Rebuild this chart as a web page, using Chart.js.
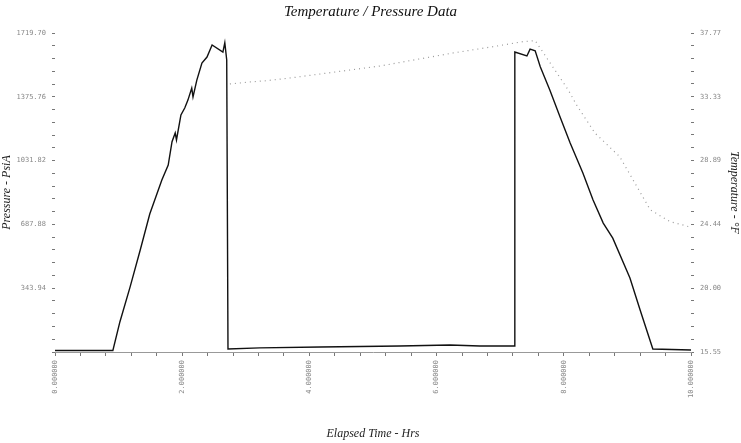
<!DOCTYPE html>
<html>
<head>
<meta charset="utf-8">
<script src="https://cdn.jsdelivr.net/npm/chart.js@4"></script>
<style>
html,body{margin:0;padding:0;background:#fff;}
#wrap{width:741px;height:443px;}
</style>
</head>
<body>
<div id="wrap"><canvas id="c" width="741" height="443"></canvas></div>
<script>
// ---- data ----
const pressureTime = [0.00,0.91,1.02,1.18,1.34,1.49,1.68,1.78,1.84,1.89,1.91,1.98,2.04,2.09,2.15,2.17,2.23,2.31,2.39,2.47,2.64,2.67,2.70,2.72,3.22,4.17,5.42,6.21,6.68,7.22,7.23,7.42,7.47,7.55,7.63,7.78,7.94,8.10,8.30,8.46,8.62,8.77,9.04,9.20,9.40,10.00];
const pressurePsi  = [8,8,162,350,550,744,927,1008,1134,1181,1143,1278,1315,1358,1423,1375,1466,1558,1590,1655,1617,1667,1574,16,22,27,32,38,32,32,1617,1596,1633,1624,1538,1412,1268,1127,965,819,695,614,399,226,16,11];

const tempTime = [2.75,3.07,3.33,3.74,5.11,6.26,6.89,7.36,7.55,8.07,8.20,8.49,8.88,9.09,9.36,9.67,9.87,9.98];
const tempF    = [34.22,34.36,34.45,34.66,35.47,36.38,36.82,37.17,37.24,33.80,32.76,30.80,29.15,27.53,25.45,24.63,24.40,24.26];

// ---- axes / tick labels ----
const xMajorTicks = [0,2,4,6,8,10];
const xTickLabels = ['0.000000','2.000000','4.000000','6.000000','8.000000','10.000000'];
const pressureMajorTicks = [0,343.94,687.88,1031.82,1375.76,1719.70];
const pressureTickLabels = ['','343.94','687.88','1031.82','1375.76','1719.70'];
const tempMajorTicks = [15.55,20.00,24.44,28.89,33.33,37.77];
const tempTickLabels = ['15.55','20.00','24.44','28.89','33.33','37.77'];
const minorPerMajor = 5;

function subdivide(majors){
  const out=[];
  for(let i=0;i<majors.length-1;i++){
    for(let k=0;k<minorPerMajor;k++){
      out.push(majors[i]+(majors[i+1]-majors[i])*k/minorPerMajor);
    }
  }
  out.push(majors[majors.length-1]);
  return out;
}
function makeTicks(majors){
  return function(scale){ scale.ticks = subdivide(majors).map(v=>({value:v})); };
}
function labelFor(majors, labels){
  return function(value){
    for(let i=0;i<majors.length;i++){ if(Math.abs(value-majors[i])<1e-6) return labels[i]; }
    return '';
  };
}

const tickFont = {family:'"DejaVu Sans Mono", monospace', size:7};
const titleFont = {family:'"Liberation Serif", serif', style:'italic', size:12};

new Chart(document.getElementById('c'), {
  type:'line',
  data:{
    datasets:[
      {label:'Pressure', data: pressureTime.map((t,i)=>({x:t,y:pressurePsi[i]})), yAxisID:'yP',
       borderColor:'#111', borderWidth:1.4, pointRadius:0, tension:0, fill:false},
      {label:'Temperature', data: tempTime.map((t,i)=>({x:t,y:tempF[i]})), yAxisID:'yT',
       borderColor:'#9a9a9a', borderWidth:1.2, borderDash:[1,4], pointRadius:0, tension:0, fill:false}
    ]
  },
  options:{
    responsive:false, animation:false,
    layout:{padding:{left:0,right:0,top:0,bottom:0}},
    plugins:{
      legend:{display:false}, tooltip:{enabled:false},
      title:{display:true, text:'Temperature / Pressure Data', color:'#111',
             font:{family:'"Liberation Serif", serif', style:'italic', weight:'normal', size:15}, padding:{top:3,bottom:12}}
    },
    scales:{
      x:{type:'linear', min:0, max:10,
         afterBuildTicks: makeTicks(xMajorTicks),
         afterFit: s=>{ s.height = 91; },
         border:{display:true, color:'#999', width:1},
         grid:{drawOnChartArea:false, drawTicks:true, tickLength:4, color:'#777'},
         ticks:{autoSkip:false, maxRotation:90, minRotation:90, color:'#888', font:tickFont, padding:4,
                callback: labelFor(xMajorTicks, xTickLabels)},
         title:{display:true, text:'Elapsed Time - Hrs', color:'#222', font:titleFont, padding:{top:0,bottom:2}}
      },
      yP:{type:'linear', position:'left', min:0, max:1719.70,
         afterBuildTicks: makeTicks(pressureMajorTicks),
         afterFit: s=>{ s.width = 55; },
         border:{display:false},
         grid:{drawOnChartArea:false, drawTicks:true, tickLength:3, color:'#777'},
         ticks:{autoSkip:false, color:'#888', font:tickFont, padding:6,
                callback: labelFor(pressureMajorTicks, pressureTickLabels)},
         title:{display:true, text:'Pressure - PsiA', color:'#222', font:titleFont, padding:{top:0,bottom:0}}
      },
      yT:{type:'linear', position:'right', min:15.55, max:37.77,
         afterBuildTicks: makeTicks(tempMajorTicks),
         afterFit: s=>{ s.width = 50; },
         border:{display:false},
         grid:{drawOnChartArea:false, drawTicks:true, tickLength:3, color:'#777'},
         ticks:{autoSkip:false, color:'#888', font:tickFont, padding:6,
                callback: labelFor(tempMajorTicks, tempTickLabels)},
         title:{display:true, text:'Temperature - °F', color:'#222', font:titleFont, padding:{top:0,bottom:0}}
      }
    }
  }
});
</script>
</body>
</html>
